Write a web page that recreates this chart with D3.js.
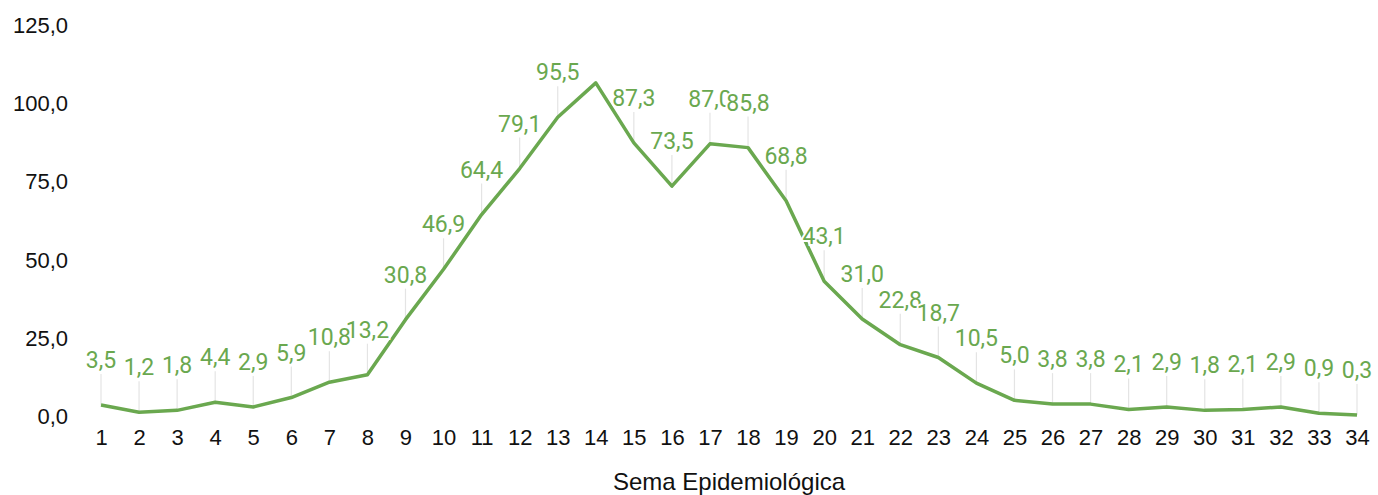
<!DOCTYPE html>
<html>
<head>
<meta charset="utf-8">
<script src="https://cdn.jsdelivr.net/npm/d3@7"></script>
<style>
  body { margin: 0; background: #fff; }
  #chart { width: 1378px; height: 495px; }
</style>
</head>
<body>
<div id="chart"></div>
<script>
// weeks and values
let weeks = d3.range(1, 35);
let values = [3.5, 1.2, 1.8, 4.4, 2.9, 5.9, 10.8, 13.2, 30.8, 46.9, 64.4, 79.1, 95.5, 106.5,
    87.3, 73.5, 87.0, 85.8, 68.8, 43.1, 31.0, 22.8, 18.7, 10.5, 5.0, 3.8, 3.8, 2.1, 2.9,
    1.8, 2.1, 2.9, 0.9, 0.3];
let yTicks = [0, 25, 50, 75, 100, 125];
let hiddenLabels = [14]; // the peak has no label in the original
let xTitle = "Sema Epidemiológica";

let green = "#6aa84f";
let fmt = (v) => d3.format(".1f")(v).replace(".", ",");

let data = weeks.map((w, i) => ({week: w, value: values[i]}));

let margin = {top: 25, right: 21, bottom: 79, left: 101};
let width = 1378, height = 495;

let svg = d3.select("#chart").append("svg")
    .attr("width", width)
    .attr("height", height);

let x = d3.scalePoint()
    .domain(weeks)
    .range([margin.left, width - margin.right]);

let y = d3.scaleLinear()
    .domain([0, 125])
    .range([height - margin.bottom, margin.top]);

// y axis labels
svg.append("g")
    .selectAll("text")
    .data(yTicks)
    .enter()
    .append("text")
    .attr("x", 68)
    .attr("y", (d) => y(d))
    .attr("dy", "0.36em")
    .attr("text-anchor", "end")
    .style("font-family", "'Liberation Sans', Arial, sans-serif")
    .style("font-size", "22px")
    .style("fill", "#111")
    .text(fmt);

// x axis labels
let xAxis = svg.append("g")
    .attr("transform", "translate(0," + (height - margin.bottom) + ")")
    .call(d3.axisBottom(x).tickSize(0).tickPadding(13));
xAxis.select(".domain").remove();
xAxis.selectAll("text")
    .style("font-family", "'Liberation Sans', Arial, sans-serif")
    .style("font-size", "22px")
    .style("fill", "#111");

svg.append("text")
    .attr("x", (margin.left + width - margin.right) / 2)
    .attr("y", 490)
    .attr("text-anchor", "middle")
    .style("font-family", "'Liberation Sans', Arial, sans-serif")
    .style("font-size", "24px")
    .style("fill", "#111")
    .text(xTitle);

let labelled = data.filter((d) => !hiddenLabels.includes(d.week));

// leader lines
svg.append("g")
    .selectAll("line")
    .data(labelled)
    .enter()
    .append("line")
    .attr("x1", (d) => x(d.week))
    .attr("x2", (d) => x(d.week))
    .attr("y1", (d) => y(d.value))
    .attr("y2", (d) => y(d.value) - 31)
    .style("stroke", "#e4e4e4")
    .style("stroke-width", 1.2);

// the line
let line = d3.line()
    .x((d) => x(d.week))
    .y((d) => y(d.value));

svg.append("path")
    .datum(data)
    .attr("d", line)
    .style("fill", "none")
    .style("stroke", green)
    .style("stroke-width", 3.5)
    .style("stroke-linejoin", "round");

// value labels with white halo
svg.append("g")
    .selectAll("text")
    .data(labelled)
    .enter()
    .append("text")
    .attr("x", (d) => x(d.week))
    .attr("y", (d) => y(d.value) - 37)
    .attr("text-anchor", "middle")
    .style("font-family", "Roboto, sans-serif")
    .style("font-size", "23px")
    .style("fill", green)
    .style("stroke", "#fff")
    .style("stroke-width", 4)
    .style("paint-order", "stroke")
    .text((d) => fmt(d.value));
</script>
</body>
</html>
